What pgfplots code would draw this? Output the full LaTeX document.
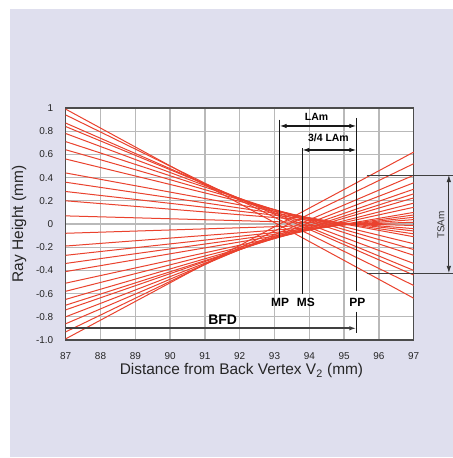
\documentclass[border=0pt]{standalone}
\usepackage{fontspec}
\setmainfont{Liberation Sans}
\usepackage{pgfplots}
\pgfplotsset{compat=1.18}
\usetikzlibrary{arrows.meta}

\definecolor{panel}{RGB}{223,223,238}
\definecolor{rayred}{RGB}{234,66,46}
\definecolor{gridgray}{RGB}{185,185,185}
\definecolor{ink}{RGB}{25,25,25}

\tikzset{
  ray/.style={draw=rayred, line width=1bp},
  ann/.style={draw=ink, line width=1.1bp},
  tip/.style={-{Latex[length=7bp,width=4.5bp]}},
  tips/.style={{Latex[length=7bp,width=4.5bp]}-{Latex[length=7bp,width=4.5bp]}},
}

\begin{document}
\begin{tikzpicture}[x=1bp,y=1bp]
% page is 453 x 458, the axis box sits at (65.7,108)-(413.7,340) from the top left
\useasboundingbox (-65.7,-118) rectangle (387.3,340);
\fill[white] (-65.7,-118) rectangle (387.3,340);
\fill[panel] (-55.7,-117) rectangle (387.3,331);
\begin{axis}[
  at={(0,0)}, anchor=south west,
  scale only axis, width=348bp, height=232bp,
  xmin=87, xmax=97, ymin=-1, ymax=1,
  clip=false,
  axis background/.style={fill=white},
  axis line style={draw=black!70, line width=1.3bp},
  grid=major,
  major grid style={draw=gridgray, line width=1.3bp},
  tick style={draw=none},
  xtick={87,88,89,90,91,92,93,94,95,96,97},
  xticklabels={87,88,89,90,91,92,93,94,95,96,97},
  ytick={-1,-0.8,-0.6,-0.4,-0.2,0,0.2,0.4,0.6,0.8,1},
  yticklabels={-1.0,-0.8,-0.6,-0.4,-0.2,0,0.2,0.4,0.6,0.8,1},
  ticklabel style={font=\fontsize{10}{12}\selectfont, text=black!85},
  xticklabel style={yshift=-9bp},
  yticklabel style={xshift=-9bp},
  xlabel={Distance from Back Vertex V\textsubscript{2} (mm)},
  ylabel={Ray Height (mm)},
  label style={font=\fontsize{15.5}{18}\selectfont, text=black!85},
  xlabel style={at={(axis description cs:0.505,-0.1336)}, anchor=center},
  ylabel style={at={(axis description cs:-0.134,0.5)}, anchor=center},
]
% rays entering above the axis
\addplot[ray] coordinates {(87,0.99) (97,-0.64)};
\addplot[ray] coordinates {(87,0.94) (97,-0.53)};
\addplot[ray] coordinates {(87,0.87) (97,-0.44)};
\addplot[ray] coordinates {(87,0.84) (97,-0.40)};
\addplot[ray] coordinates {(87,0.78) (97,-0.34)};
\addplot[ray] coordinates {(87,0.71) (97,-0.27)};
\addplot[ray] coordinates {(87,0.64) (97,-0.22)};
\addplot[ray] coordinates {(87,0.56) (97,-0.17)};
\addplot[ray] coordinates {(87,0.44) (97,-0.11)};
\addplot[ray] coordinates {(87,0.36) (97,-0.085)};
\addplot[ray] coordinates {(87,0.28) (97,-0.06)};
\addplot[ray] coordinates {(87,0.20) (97,-0.04)};
\addplot[ray] coordinates {(87,0.07) (97,-0.013)};
% rays entering below the axis
\addplot[ray] coordinates {(87,-0.08) (97,0.015)};
\addplot[ray] coordinates {(87,-0.19) (97,0.038)};
\addplot[ray] coordinates {(87,-0.27) (97,0.058)};
\addplot[ray] coordinates {(87,-0.34) (97,0.078)};
\addplot[ray] coordinates {(87,-0.41) (97,0.10)};
\addplot[ray] coordinates {(87,-0.51) (97,0.144)};
\addplot[ray] coordinates {(87,-0.58) (97,0.18)};
\addplot[ray] coordinates {(87,-0.65) (97,0.225)};
\addplot[ray] coordinates {(87,-0.70) (97,0.26)};
\addplot[ray] coordinates {(87,-0.74) (97,0.30)};
\addplot[ray] coordinates {(87,-0.80) (97,0.355)};
\addplot[ray] coordinates {(87,-0.86) (97,0.42)};
\addplot[ray] coordinates {(87,-0.93) (97,0.52)};
\addplot[ray] coordinates {(87,-0.99) (97,0.62)};

% marginal, minimum spot and paraxial planes
\draw[ann] (axis cs:93.15,0.90) -- (axis cs:93.15,-0.60);
\draw[ann] (axis cs:93.80,0.655) -- (axis cs:93.80,-0.60);
\draw[ann] (axis cs:95.35,0.915) -- (axis cs:95.35,-0.58);
\draw[ann] (axis cs:95.35,-0.756) -- (axis cs:95.35,-0.94);
\node[font=\fontsize{12}{14}\selectfont\bfseries] at (axis cs:93.16,-0.678) {MP};
\node[font=\fontsize{12}{14}\selectfont\bfseries] at (axis cs:93.90,-0.678) {MS};
\node[font=\fontsize{12}{14}\selectfont\bfseries] at (axis cs:95.38,-0.678) {PP};

% longitudinal aberration
\draw[ann, tips] (axis cs:93.15,0.845) -- (axis cs:95.35,0.845);
\node[font=\fontsize{10.5}{12}\selectfont\bfseries] at (axis cs:94.21,0.925) {LAm};
\draw[ann, tips] (axis cs:93.80,0.638) -- (axis cs:95.35,0.638);
\node[font=\fontsize{10.5}{12}\selectfont\bfseries] at (axis cs:94.55,0.739) {3/4 LAm};

% back focal distance
\draw[draw=black!75, line width=1.6bp, tip] (axis cs:87,-0.899) -- (axis cs:95.35,-0.899);
\node[font=\fontsize{14}{16}\selectfont\bfseries] at (axis cs:91.51,-0.822) {BFD};

% transverse aberration
\draw[draw=black!75, line width=0.8bp] (axis cs:95.65,0.422) -- (axis cs:98.13,0.422);
\draw[draw=black!75, line width=0.8bp] (axis cs:95.65,-0.422) -- (axis cs:98.13,-0.422);
\draw[draw=black!80, line width=0.8bp, tips] (axis cs:98.01,0.422) -- (axis cs:98.01,-0.422);
\node[font=\fontsize{10}{12}\selectfont, rotate=90, text=black!80] at (axis cs:97.785,-0.01) {TSAm};
\end{axis}
\end{tikzpicture}
\end{document}
